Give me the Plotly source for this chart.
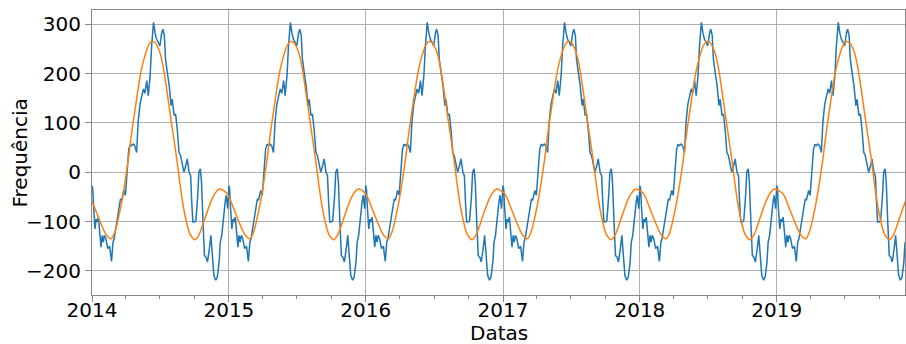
import datetime as dt
import plotly.graph_objects as go

blue_days = [0, 2, 4, 8, 11, 14, 17, 21, 24, 27, 30, 33, 37, 42, 47, 52, 56, 59, 65, 70,
             76, 79, 85, 89, 92, 95, 98, 102, 105, 110, 114, 119, 123, 128, 132, 137, 141,
             146, 150, 155, 159, 164, 168, 172, 177, 181, 186, 189, 193, 196, 202, 206, 211,
             214, 219, 223, 228, 232, 236, 241, 245, 250, 254, 259, 263, 266, 269, 273, 277,
             282, 285, 289, 292, 296, 300, 304, 308, 313, 317, 321, 325, 330, 334, 339, 342,
             346, 350, 355, 358, 362]
blue_vals = [-27, -35, -67, -115, -95, -101, -91, -128, -152, -128, -142, -128, -135, -155,
             -150, -181, -142, -135, -108, -88, -54, -57, -37, -47, -7, 20, 47, 57, 54, 57,
             54, 40, 101, 138, 152, 169, 160, 186, 155, 196, 256, 304, 283, 270, 263, 256,
             283, 290, 277, 230, 196, 175, 135, 148, 115, 118, 81, 40, 34, 13, 0, 13, 27, 0,
             -7, -61, -101, -101, -98, -47, 0, 7, -20, -101, -169, -172, -182, -155, -128,
             -169, -209, -219, -213, -182, -142, -128, -94, -61, -47, -74]

# Fitted seasonal curve profile (day of year, value)
orange_days = [0, 17, 35, 48, 60, 70, 79, 88, 97, 106, 115, 124, 132, 141, 150, 159, 168,
               177, 190, 199, 208, 217, 226, 235, 243, 252, 261, 270, 279, 283, 292, 301,
               310, 319, 328, 337, 346, 352, 359]
orange_vals = [-44, -74, -108, -128, -135, -121, -94, -61, -20, 27, 81, 128, 169, 209, 236,
               256, 265, 263, 243, 213, 169, 121, 74, 27, -20, -67, -101, -125, -135, -137,
               -130, -114, -94, -74, -56, -43, -35, -34, -37]

years = [2014, 2015, 2016, 2017, 2018, 2019]
orange_shift = [-9, -4, 0, 5, 10, 17]  # days the fitted curve lags per year

start = dt.date(2014, 1, 1)
end = dt.date(2019, 12, 9)

bx, by = [], []
for y in years:
    for d, v in zip(blue_days, blue_vals):
        day = dt.date(y, 1, 1) + dt.timedelta(days=d)
        if day <= end:
            bx.append(day)
            by.append(v)

ox, oy = [], []
for y, s in zip(years, orange_shift):
    for d, v in zip(orange_days, orange_vals):
        day = dt.date(y, 1, 1) + dt.timedelta(days=d + s)
        ox.append(day)
        oy.append(v)

fig = go.Figure()
fig.add_trace(go.Scatter(x=bx, y=by, mode="lines", line=dict(color="#1f77b4", width=1.5),
                         showlegend=False))
fig.add_trace(go.Scatter(x=ox, y=oy, mode="lines", line=dict(color="#ff7f0e", width=1.5, shape="spline", smoothing=1.0),
                         showlegend=False))

font = dict(family="DejaVu Sans", size=20, color="#000000")
fig.update_layout(
    width=906, height=344,
    margin=dict(l=92, r=1, t=10, b=49),
    paper_bgcolor="white", plot_bgcolor="white",
    font=font,
    xaxis=dict(
        type="date", range=[start, end],
        dtick="M12", tick0="2014-01-01", tickformat="%Y",
        showgrid=True, gridcolor="#b0b0b0", gridwidth=0.8,
        ticks="outside", ticklen=6, tickcolor="#888888",
        showline=True, linecolor="#888888", linewidth=1, mirror=True,
        minor=dict(dtick="M3", ticks="outside", ticklen=3, tickcolor="#888888", showgrid=False),
        tickfont=font, ticklabelstandoff=-9,
    ),
    yaxis=dict(
        range=[-249, 329], dtick=100, tick0=0,
        showgrid=True, gridcolor="#b0b0b0", gridwidth=0.8, zeroline=False,
        ticks="outside", ticklen=6, tickcolor="#888888",
        showline=True, linecolor="#888888", linewidth=1, mirror=True,
        tickfont=font,
    ),
    annotations=[
        dict(text="Datas", xref="paper", yref="paper", x=0.5, y=-0.133,
             xanchor="center", yanchor="middle", showarrow=False, font=font, borderpad=0),
        dict(text="Frequência", xref="paper", yref="paper", x=-0.0886, y=0.5,
             xanchor="center", yanchor="middle", textangle=-90, showarrow=False,
             font=font, borderpad=0),
    ],
)

fig.write_html("out.html")
